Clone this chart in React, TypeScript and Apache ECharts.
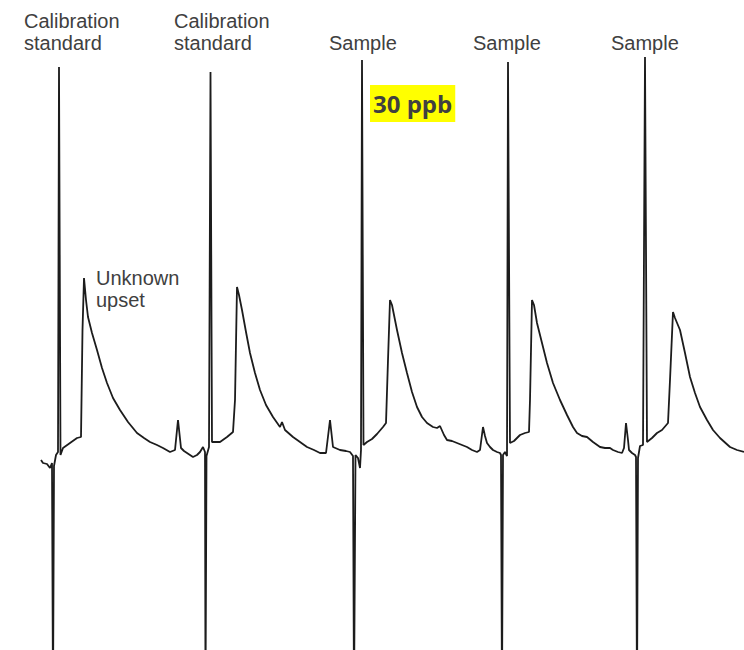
import React, { useEffect, useRef } from "react";
import * as echarts from "echarts";

// Detector trace: time (s) and signal above baseline (mV)
const time = [
  41, 43, 47, 50, 52, 53, 54, 56, 58, 59, 60.5, 63, 70, 77, 81, 82.5, 84, 86, 88, 92, 97, 102, 107, 113, 120,
  128, 137, 144, 150, 157, 163, 170, 175, 178, 181, 184, 187, 193, 197, 200, 203, 205, 205.5, 206.5, 209,
  210.5, 212, 220, 227, 233, 235, 237, 239, 242, 246, 250, 255, 260, 266, 273, 280, 282, 285, 293, 300, 307,
  314, 320, 326, 330, 333, 340, 346, 350, 353, 354, 355.5, 358, 360, 361, 362, 363.5, 367, 372, 377, 383,
  386, 388, 390, 392, 397, 402, 407, 412, 417, 422, 427, 433, 437, 440, 444, 447, 452, 457, 462, 467, 472,
  477, 480, 483, 485, 487, 490, 493, 497, 500, 501, 502, 503, 505, 507, 508, 510, 514, 520, 525, 529, 530,
  532, 534, 537, 542, 547, 553, 560, 567, 573, 577, 582, 587, 593, 600, 605, 610, 613, 618, 622, 624, 626,
  628, 629, 632, 635, 636, 637, 638, 640, 643, 645, 647, 652, 657, 662, 668, 670, 673, 675, 680, 685, 690,
  695, 700, 707, 713, 720, 730, 737, 744,
];

const signal = [
  0, -3, -4, -8, -3, -240, -6, 5, 8, 393, 5, 12, 17, 22, 23, 130, 182, 160, 143, 127, 110, 92, 77, 62, 50,
  38, 27, 22, 18, 15, 12, 8, 10, 40, 12, 9, 7, 3, 5, 8, 13, 8, -240, 4, 13,
  388, 18, 18, 23, 28, 60, 173, 165, 150, 128, 107, 87, 70, 55, 43, 33, 38, 30, 23, 18, 13,
  10, 7, 7, 40, 13, 10, 9, 8, 4, -240, 5, 2, -8, 10, 400, 15, 18, 21, 26, 33,
  37, 100, 160, 155, 130, 107, 87, 68, 53, 43, 37, 33, 32, 34, 25, 20, 19, 17, 15, 13, 10,
  8, 10, 33, 24, 17, 13, 10, 8, 7, 5, -240, 5, 8, 4, 398, 17, 19, 25, 27, 28, 60,
  160, 155, 137, 117, 97, 77, 60, 45, 33, 27, 24, 23, 18, 13, 12, 12, 10, 8, 7, 12, 37,
  20, 10, 7, 5, 3, -240, 2, 14, 15, 403, 18, 22, 27, 30, 37, 80, 148, 142, 130, 107, 83,
  67, 53, 40, 30, 22, 13, 10, 8,
];

// Injection labels above each sharp peak
const injectionLabels = [
  "Calibration\nstandard",
  "Calibration\nstandard",
  "Sample",
  "Sample",
  "Sample",
];
const upsetLabel = "Unknown\nupset";
const concentrationLabel = "30 ppb";

export default function App() {
  const ref = useRef<HTMLDivElement>(null);

  useEffect(() => {
    if (!ref.current) return;
    const chart = echarts.init(ref.current, null, { renderer: "svg" });

    const labelFont = {
      fontFamily: "Liberation Sans, Arial, sans-serif",
      fontSize: 20,
      lineHeight: 22,
      fill: "#404040",
    };
    const labelPos = [
      { x: 24, y: 10 },
      { x: 174, y: 10 },
      { x: 329, y: 32 },
      { x: 473, y: 32 },
      { x: 611, y: 32 },
    ];

    chart.setOption({
      animation: false,
      backgroundColor: "#ffffff",
      grid: { left: 0, right: 0, top: 0, bottom: 0 },
      xAxis: { type: "value", min: 0, max: 744, show: false },
      yAxis: { type: "value", min: -190, max: 460, show: false },
      series: [
        {
          type: "line",
          data: time.map((t, i) => [t, signal[i]]),
          showSymbol: false,
          clip: true,
          lineStyle: { color: "#1c1c1c", width: 1.8 },
        },
      ],
      graphic: [
        ...injectionLabels.map((text, i) => ({
          type: "text",
          x: labelPos[i].x,
          y: labelPos[i].y,
          style: { text, ...labelFont },
        })),
        {
          type: "text",
          x: 96,
          y: 267,
          style: { text: upsetLabel, ...labelFont },
        },
        {
          type: "text",
          x: 370,
          y: 85,
          style: {
            text: concentrationLabel,
            fontFamily: "Open Sans, sans-serif",
            fontWeight: "bold",
            fontSize: 24,
            lineHeight: 33,
            fill: "#404040",
            backgroundColor: "#ffff00",
            padding: [2, 3, 2, 3],
          },
        },
      ],
    });

    return () => chart.dispose();
  }, []);

  return (
    <div
      ref={ref}
      style={{ position: "fixed", left: 0, top: 0, width: 744, height: 650 }}
    />
  );
}
